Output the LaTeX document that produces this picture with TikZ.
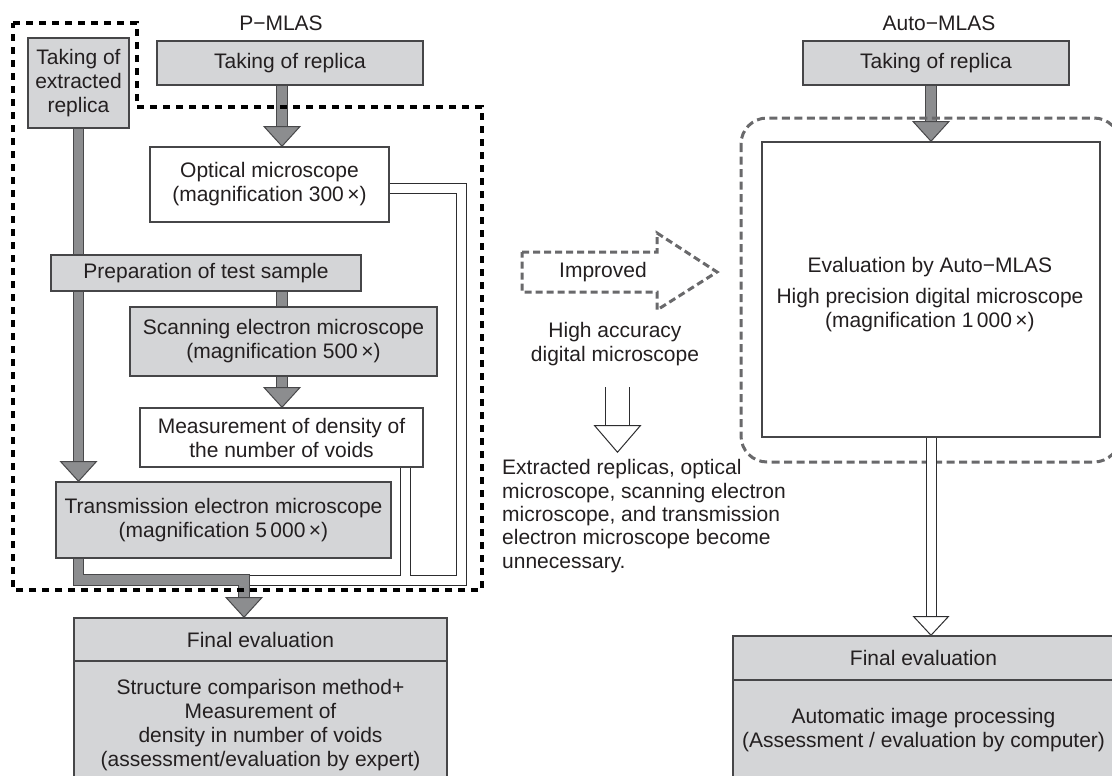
\documentclass[tikz,border=0pt]{standalone}
\usepackage{fontspec}
\setmainfont{Liberation Sans}
\usepackage{tikz}
\usetikzlibrary{arrows.meta,backgrounds}
\definecolor{boxgray}{RGB}{212,213,215}
\definecolor{boxline}{RGB}{70,70,72}
\definecolor{arrowgray}{RGB}{140,141,143}
\definecolor{edgegray}{RGB}{72,72,74}
\definecolor{pipeline}{RGB}{45,45,47}
\definecolor{dashgray}{RGB}{105,105,107}
\definecolor{txt}{RGB}{35,31,32}
\newcommand*\shaftwd{9.4pt}
\newcommand*\shaftout{11.2pt}
\tikzset{
    box/.style       = {draw=boxline, line width=1.1pt, fill=boxgray, text=txt,
                        align=center, inner sep=0pt, outer sep=0pt},
    whitebox/.style  = {box, fill=white},
    plaintext/.style = {text=txt, inner sep=0pt, align=center},
    grayshaft/.style = {draw=arrowgray, line width=\shaftwd, line join=miter,
                        preaction={draw=edgegray, line width=\shaftout}},
    grayarrow/.style = {draw=arrowgray, line width=\shaftwd, line join=miter,
                        -{Triangle[width=38pt,length=21pt,fill=arrowgray,color=edgegray,line width=1pt]},
                        preaction={draw=edgegray, line width=\shaftout, arrows=-, shorten >=19pt}},
    hollowarrow/.style = {draw=white, line width=9pt,
                        -{Triangle[width=37pt,length=20pt,fill=white,color=pipeline,line width=1pt]},
                        preaction={draw=pipeline, line width=11pt, arrows=-, shorten >=18pt}},
    bigarrow/.style  = {draw=white, line width=23pt,
                        -{Triangle[width=48pt,length=28pt,fill=white,color=pipeline,line width=1pt]},
                        preaction={draw=pipeline, line width=25pt, arrows=-, shorten >=26pt}},
    pmlasframe/.style = {draw=black, line width=4pt, dash pattern=on 7pt off 6pt},
    autoframe/.style  = {draw=dashgray, line width=3pt, dash pattern=on 8pt off 4.5pt,
                        rounded corners=26pt},
    improvedshape/.style = {draw=dashgray, line width=3pt, dash pattern=on 7pt off 4pt},
  }

\begin{document}
\begin{tikzpicture}[x=1pt,y=-1pt,font=\fontsize{21}{24}\selectfont]
    \useasboundingbox (0,0) rectangle (1112,776);

    % P-MLAS column
    \node[plaintext] (pmlas) at (281,23) {P−MLAS};
    \node[box, minimum width=101pt, minimum height=90pt] (extr) at (78.5,83) {Taking of\\extracted\\replica};
    \node[box, minimum width=266pt, minimum height=44pt] (repL) at (290,63) {Taking of replica};
    \node[whitebox, minimum width=239pt, minimum height=75pt] (opt) at (269.5,184.5) {Optical microscope\\(magnification 300\,×)};
    \node[box, minimum width=310pt, minimum height=36pt] (prep) at (206,273) {Preparation of test sample};
    \node[box, minimum width=307pt, minimum height=69pt] (sem) at (283.5,341.5) {Scanning electron microscope\\(magnification 500\,×)};
    \node[whitebox, minimum width=283pt, minimum height=59pt] (meas) at (281.5,437.5) {Measurement of density of\\the number of voids};
    \node[box, minimum width=335pt, minimum height=76pt] (tem) at (223.5,520) {Transmission electron microscope\\(magnification 5\,000\,×)};
    \node[box, minimum width=373pt, minimum height=43pt] (finLt) at (260.5,639.5) {Final evaluation};
    \node[box, minimum width=373pt, minimum height=128pt] (finLb) at (260.5,725) {Structure comparison method+\\Measurement of\\density in number of voids\\(assessment/evaluation by expert)};

    % middle texts
    \node[plaintext] (imp) at (603,272) {Improved};
    \node[plaintext] (hadm) at (615,344) {High accuracy\\digital microscope};
    \node[plaintext, align=left, anchor=west, font=\fontsize{21}{23.3}\selectfont] (unnec) at (502,516)
        {Extracted replicas, optical\\microscope, scanning electron\\microscope, and transmission\\electron microscope become\\unnecessary.};

    % Auto-MLAS column
    \node[plaintext] (amlas) at (939,23) {Auto−MLAS};
    \node[box, minimum width=266pt, minimum height=44pt] (repR) at (936,63) {Taking of replica};
    \node[whitebox, minimum width=338pt, minimum height=295pt] (auto) at (931,289.5) {};
    \node[plaintext] (autotxt) at (930,295) {Evaluation by Auto−MLAS\\[7pt]High precision digital microscope\\(magnification 1\,000\,×)};
    \node[box, minimum width=381pt, minimum height=44pt] (finRt) at (923.5,658) {Final evaluation};
    \node[box, minimum width=381pt, minimum height=100pt] (finRb) at (923.5,730) {Automatic image processing\\(Assessment / evaluation by computer)};

    % helper points for the pipes
    \coordinate (midcol) at (282,0);
    \coordinate (optout) at ([yshift=-3.5pt]opt.east);
    \coordinate (measout) at ([xshift=-17.5pt]meas.south east);
    \coordinate (pipeR) at (461,580);
    \coordinate (pipeL) at (244,580);
    \coordinate (temout) at (tem.south -| extr.south);
    \coordinate (dntop) at (617.5,387);
    \coordinate (dnend) at (617.5,453);

    \begin{scope}[on background layer]
        % white feedback pipes: outline first, then the white inside
        \foreach \lw/\col in {11pt/pipeline, 9pt/white}
            \draw[line width=\lw, draw=\col, line join=miter]
                (optout) -| (pipeR) -- (pipeL)
                (measout) -- (measout |- pipeR);

        % gray flow arrows
        \draw[grayarrow] (repL.south -| midcol) -- (opt.north -| midcol);
        \draw[grayshaft] (prep.south -| midcol) -- (sem.north -| midcol);
        \draw[grayarrow] (sem.south -| midcol) -- (meas.north -| midcol);
        \draw[grayarrow] (extr.south) -- (extr.south |- tem.north);
        \draw[grayarrow] (temout) |- (pipeL) -- (pipeL |- finLt.north);
        \draw[grayarrow] (auto.north |- repR.south) -- (auto.north);

        % Auto-MLAS frame
        \draw[autoframe] (741,118) rectangle (1120,462);

        % hollow arrows
        \draw[hollowarrow] (auto.south) -- (auto.south |- finRt.north);
        \draw[bigarrow] (dntop) -- (dnend);
    \end{scope}

    % P-MLAS frame
    \draw[pmlasframe] (13,23) -- (137,23) -- (137,107) -- (482,107) -- (482,590) -- (13,590) -- cycle;

    % Improved arrow outline
    \draw[improvedshape] (522,252) -- (657,252) -- (657,233) -- (717,272)
        -- (657,310) -- (657,292) -- (522,292) -- cycle;
\end{tikzpicture}
\end{document}
